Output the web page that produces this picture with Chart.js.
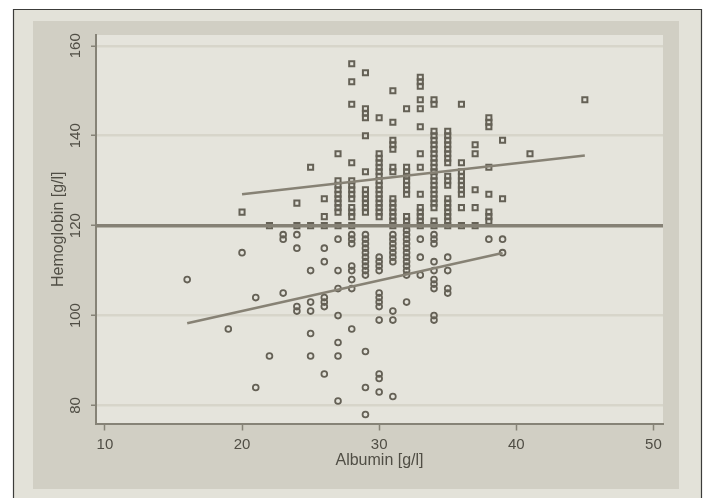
<!DOCTYPE html>
<html>
<head>
<meta charset="utf-8">
<title>Hemoglobin vs Albumin</title>
<script src="https://cdn.jsdelivr.net/npm/chart.js@4.4.1/dist/chart.umd.min.js"></script>
<style>
  html, body { margin: 0; padding: 0; background: #ffffff; }
  canvas { display: block; }
</style>
</head>
<body>
<canvas id="chart" width="706" height="498"></canvas>
<script>
// Axis limits and tick labels
const xMin = 9.35, xMax = 50.7;
const yMin = 76, yMax = 162.4;
const xTickValues = [10, 20, 30, 40, 50];
const yTickValues = [80, 100, 120, 140, 160];

// Patients with hemoglobin >= 120 g/l: [albumin, [hemoglobin values...]]
const highHbColumns = [
  [20, [123]],
  [22, [120]],
  [24, [125, 120]],
  [25, [133, 120]],
  [26, [126, 122, 120]],
  [27, [136, 130, 129, 128, 127, 126, 125, 124, 123, 120]],
  [28, [156, 152, 147, 134, 130, 129, 128, 127, 126, 124, 123, 122, 120]],
  [29, [154, 146, 145, 144, 140, 132, 128, 127, 126, 125, 124, 123]],
  [30, [144, 136, 135, 134, 133, 132, 131, 130, 129, 128, 127, 126, 125, 124, 123, 122]],
  [31, [150, 143, 139, 138, 137, 133, 132, 126, 125, 124, 123, 122, 121, 120]],
  [32, [146, 133, 132, 131, 130, 129, 128, 127, 122, 121, 120]],
  [33, [153, 152, 151, 148, 146, 142, 136, 133, 127, 124, 123, 122, 121, 120]],
  [34, [148, 147, 141, 140, 139, 138, 137, 136, 135, 134, 133, 132, 131, 130, 129, 128, 127, 126, 125, 124, 121, 120]],
  [35, [141, 140, 139, 138, 137, 136, 135, 134, 131, 130, 129, 126, 125, 124, 123, 122, 121, 120]],
  [36, [147, 134, 132, 131, 130, 129, 128, 127, 124, 120]],
  [37, [138, 136, 128, 124, 120]],
  [38, [144, 143, 142, 133, 127, 123, 122, 121]],
  [39, [139, 126]],
  [41, [136]],
  [45, [148]]
];

// Patients with hemoglobin < 120 g/l
const lowHbColumns = [
  [16, [108]],
  [19, [97]],
  [20, [114]],
  [21, [104, 84]],
  [22, [91]],
  [23, [118, 117, 105]],
  [24, [118, 115, 102, 101]],
  [25, [110, 103, 101, 96, 91]],
  [26, [115, 112, 104, 103, 102, 87]],
  [27, [117, 110, 106, 100, 94, 91, 81]],
  [28, [118, 117, 116, 111, 110, 108, 106, 97]],
  [29, [118, 117, 116, 115, 114, 113, 112, 111, 110, 109, 92, 84, 78]],
  [30, [113, 112, 111, 110, 105, 104, 103, 102, 99, 87, 86, 83]],
  [31, [118, 117, 116, 115, 114, 113, 112, 101, 99, 82]],
  [32, [119, 118, 117, 116, 115, 114, 113, 112, 111, 110, 109, 103]],
  [33, [117, 113, 109]],
  [34, [118, 117, 116, 112, 110, 108, 107, 106, 100, 99]],
  [35, [113, 110, 106, 105]],
  [38, [117]],
  [39, [117, 114]]
];

// Linear fit endpoints for each group, and the 120 g/l reference level
const highFit = [[20, 127.0], [45, 135.6]];
const lowFit = [[16, 98.3], [39, 113.9]];
const referenceHb = 120;

const toPoints = cols => cols.flatMap(([alb, hbs]) => hbs.map(hb => ({ x: alb, y: hb })));
const toLine = pairs => pairs.map(([x, y]) => ({ x, y }));

const markerColor = '#656156';
const axisColor = '#868377';
const textColor = '#504e45';
const fontFamily = "'Liberation Sans', Arial, Helvetica, sans-serif";

const frameBackground = {
  id: 'frameBackground',
  beforeDraw(chart) {
    const { ctx, chartArea: a } = chart;
    ctx.save();
    ctx.fillStyle = '#ffffff';
    ctx.fillRect(0, 0, chart.width, chart.height);
    ctx.fillStyle = '#e3e2d9';
    ctx.fillRect(13, 9, 689, chart.height);
    ctx.strokeStyle = '#3c3c3a';
    ctx.lineWidth = 1.2;
    ctx.beginPath();
    ctx.moveTo(13.5, chart.height + 2);
    ctx.lineTo(13.5, 9.5);
    ctx.lineTo(701.5, 9.5);
    ctx.lineTo(701.5, chart.height + 2);
    ctx.stroke();
    ctx.fillStyle = '#d1cfc4';
    ctx.fillRect(33, 21, 646, 468);
    ctx.fillStyle = '#e5e4dc';
    ctx.fillRect(a.left, a.top, a.right - a.left, a.bottom - a.top);
    ctx.restore();
  }
};

const rotatedYLabels = {
  id: 'rotatedYLabels',
  afterDraw(chart) {
    const { ctx } = chart;
    const y = chart.scales.y;
    ctx.save();
    ctx.fillStyle = textColor;
    ctx.font = '15px ' + fontFamily;
    ctx.textAlign = 'center';
    ctx.textBaseline = 'middle';
    yTickValues.forEach(v => {
      ctx.save();
      ctx.translate(76, y.getPixelForValue(v));
      ctx.rotate(-Math.PI / 2);
      ctx.fillText(String(v), 0, 0);
      ctx.restore();
    });
    ctx.restore();
  }
};

new Chart(document.getElementById('chart'), {
  type: 'scatter',
  data: {
    datasets: [
      {
        label: 'Reference',
        type: 'line',
        data: [{ x: xMin, y: referenceHb }, { x: xMax, y: referenceHb }],
        borderColor: '#858175',
        borderWidth: 3.5,
        pointRadius: 0,
        showLine: true,
        order: 0
      },
      {
        label: 'Fit high',
        type: 'line',
        data: toLine(highFit),
        borderColor: '#878275',
        borderWidth: 2.6,
        pointRadius: 0,
        showLine: true,
        order: 0
      },
      {
        label: 'Fit low',
        type: 'line',
        data: toLine(lowFit),
        borderColor: '#878275',
        borderWidth: 2.6,
        pointRadius: 0,
        showLine: true,
        order: 0
      },
      {
        label: 'Hb >= 120',
        data: toPoints(highHbColumns),
        pointStyle: 'rect',
        pointRadius: 3.6,
        pointBorderWidth: 2,
        borderColor: markerColor,
        backgroundColor: 'rgba(0,0,0,0)',
        order: 1
      },
      {
        label: 'Hb < 120',
        data: toPoints(lowHbColumns),
        pointStyle: 'circle',
        pointRadius: 2.9,
        pointBorderWidth: 1.8,
        borderColor: markerColor,
        backgroundColor: 'rgba(0,0,0,0)',
        order: 2
      }
    ]
  },
  options: {
    responsive: false,
    animation: false,
    devicePixelRatio: 1,
    layout: { padding: { left: 40, right: 43, top: 35, bottom: 27.5 } },
    plugins: { legend: { display: false }, tooltip: { enabled: false } },
    scales: {
      x: {
        type: 'linear',
        min: xMin,
        max: xMax,
        afterBuildTicks: s => { s.ticks = xTickValues.map(v => ({ value: v })); },
        afterFit: s => { s.height = 47; },
        grid: { display: true, drawOnChartArea: false, drawTicks: true, tickLength: 7, tickColor: axisColor, tickWidth: 1.5 },
        border: { display: true, color: axisColor, width: 2 },
        ticks: { color: textColor, font: { family: fontFamily, size: 15 }, padding: 5, maxRotation: 0 },
        title: { display: true, text: 'Albumin [g/l]', color: textColor, font: { family: fontFamily, size: 16 }, padding: { top: 0, bottom: 0 } }
      },
      y: {
        type: 'linear',
        min: yMin,
        max: yMax,
        afterBuildTicks: s => { s.ticks = yTickValues.map(v => ({ value: v })); },
        afterFit: s => { s.width = 56; },
        grid: { display: true, drawOnChartArea: true, color: '#d7d5ca', lineWidth: 2.5, drawTicks: true, tickLength: 5, tickColor: axisColor, tickWidth: 1.5 },
        border: { display: true, color: axisColor, width: 2 },
        ticks: { display: false },
        title: { display: true, text: 'Hemoglobin [g/l]', color: textColor, font: { family: fontFamily, size: 16 }, padding: { top: 9, bottom: 0 } }
      }
    }
  },
  plugins: [frameBackground, rotatedYLabels]
});
</script>
</body>
</html>
